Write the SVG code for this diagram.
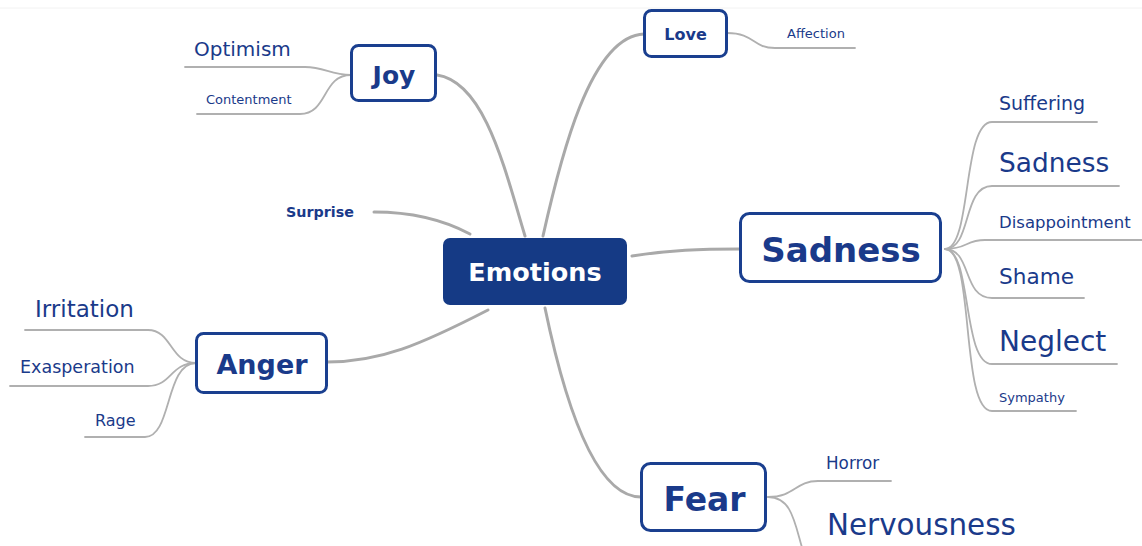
<svg xmlns="http://www.w3.org/2000/svg" width="1142" height="546" viewBox="0 0 1142 546">
<style>
.bg{fill:#ffffff}
.main{fill:none;stroke:#a9a9a9;stroke-width:3;stroke-linecap:round}
.sub{fill:none;stroke:#b0b0b0;stroke-width:1.8;stroke-linecap:round}
.box{fill:#ffffff;stroke:#1a3f8f;stroke-width:3}
.root{fill:#153a85}
.t{font-family:"DejaVu Sans","Liberation Sans",sans-serif;fill:#1a3a8a}
.b{font-weight:bold}
.w{fill:#ffffff}
.m{text-anchor:middle}
</style>
<rect class="bg" x="0" y="0" width="1142" height="546"/>
<line x1="0" y1="8" x2="1142" y2="8" stroke="#f2f2f2" stroke-width="1"/>
<g id="connectors">
  <path class="main" d="M525,236 C505,170 485,82 437,75"/>
  <path class="main" d="M543,236 C560,160 590,36 644,34"/>
  <path class="main" d="M470,234 C440,218 410,212 374,212"/>
  <path class="main" d="M632,256 C670,250 700,249 740,249"/>
  <path class="main" d="M488,310 C420,345 380,362 327,362"/>
  <path class="main" d="M545,308 C560,380 590,497 641,497"/>
  <path class="sub" d="M351,75 C330,75 325,67 305,67 L185,67"/>
  <path class="sub" d="M351,75 C322,75 328,114 300,114 L197,114"/>
  <path class="sub" d="M727,33 C755,33 752,48 775,48 L855,48"/>
  <path class="sub" d="M945,249 C972,249 962,122 992,122 L1097,122"/>
  <path class="sub" d="M945,249 C972,249 962,186 992,186 L1119,186"/>
  <path class="sub" d="M945,249 C968,249 965,240 985,240 L1142,240"/>
  <path class="sub" d="M945,249 C972,249 962,298 992,298 L1084,298"/>
  <path class="sub" d="M945,249 C972,249 962,364 992,364 L1117,364"/>
  <path class="sub" d="M945,249 C975,249 960,411 992,411 L1076,411"/>
  <path class="sub" d="M196,363 C170,363 172,330 148,330 L25,330"/>
  <path class="sub" d="M196,363 C170,363 172,386 148,386 L10,386"/>
  <path class="sub" d="M196,363 C165,363 172,437 145,437 L85,437"/>
  <path class="sub" d="M768,497 C795,497 795,481 818,481 L891,481"/>
  <path class="sub" d="M768,497 C795,497 795,530 806,560"/>
</g>
<g id="emotions">
  <rect class="root" x="443" y="238" width="184" height="67" rx="7"/>
  <text class="t b w m" x="535" y="281" font-size="25.5">Emotions</text>
</g>
<g id="joy">
  <rect class="box" x="351.5" y="45.5" width="84" height="55" rx="7"/>
  <text class="t b m" x="394" y="84" font-size="25">Joy</text>
</g>
<g id="love">
  <rect class="box" x="644.5" y="10.5" width="82" height="46" rx="7"/>
  <text class="t b m" x="685.5" y="40" font-size="16">Love</text>
</g>
<g id="sadness">
  <rect class="box" x="740.5" y="213.5" width="200" height="68" rx="9"/>
  <text class="t b m" x="841" y="262" font-size="34">Sadness</text>
</g>
<g id="anger">
  <rect class="box" x="196.5" y="333.5" width="130" height="59" rx="7"/>
  <text class="t b m" x="262" y="374" font-size="27">Anger</text>
</g>
<g id="fear">
  <rect class="box" x="641.5" y="463.5" width="124" height="67" rx="9"/>
  <text class="t b m" x="704.5" y="511" font-size="33">Fear</text>
</g>
<g id="surprise">
  <text class="t b" x="286" y="217" font-size="14.3">Surprise</text>
</g>
<g id="optimism"><text class="t" x="194" y="56" font-size="20">Optimism</text></g>
<g id="contentment"><text class="t" x="206" y="104" font-size="13">Contentment</text></g>
<g id="affection"><text class="t" x="787" y="38" font-size="13">Affection</text></g>
<g id="suffering"><text class="t" x="999" y="110" font-size="19">Suffering</text></g>
<g id="sadness2"><text class="t" x="999" y="172" font-size="26.4">Sadness</text></g>
<g id="disappointment"><text class="t" x="999" y="228" font-size="16.5">Disappointment</text></g>
<g id="shame"><text class="t" x="999" y="284" font-size="21.6">Shame</text></g>
<g id="neglect"><text class="t" x="999" y="351" font-size="28">Neglect</text></g>
<g id="sympathy"><text class="t" x="999" y="402" font-size="13">Sympathy</text></g>
<g id="irritation"><text class="t" x="35" y="317" font-size="23">Irritation</text></g>
<g id="exasperation"><text class="t" x="20" y="373" font-size="17.5">Exasperation</text></g>
<g id="rage"><text class="t" x="95" y="426" font-size="16">Rage</text></g>
<g id="horror"><text class="t" x="826" y="469" font-size="16.8">Horror</text></g>
<g id="nervousness"><text class="t" x="827" y="535" font-size="29.4">Nervousness</text></g>
</svg>
